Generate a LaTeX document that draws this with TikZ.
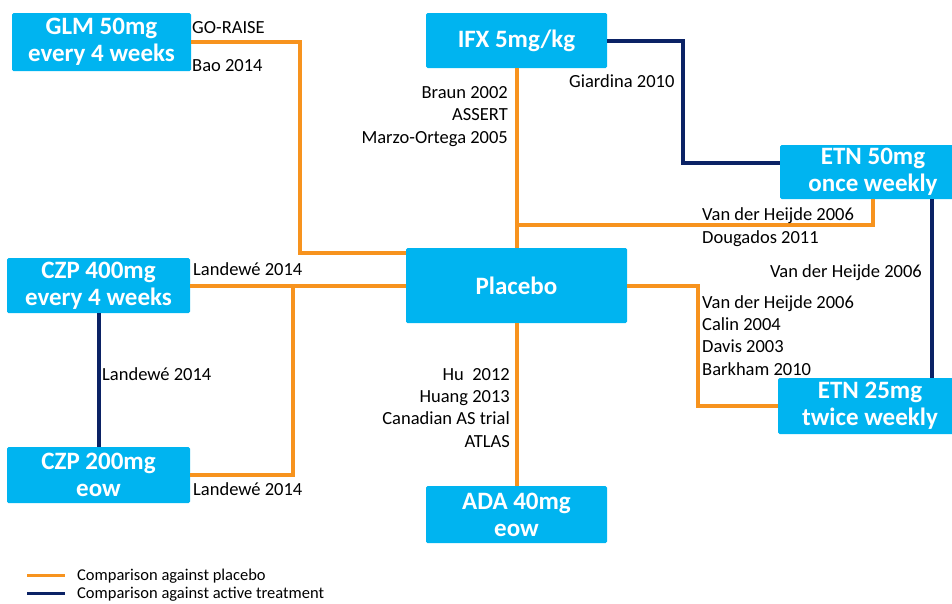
\documentclass[tikz,border=0pt]{standalone}
\usepackage{fontspec}
\setmainfont{Carlito}
\definecolor{boxblue}{HTML}{00B4F0}
\definecolor{pboorange}{HTML}{F7931E}
\definecolor{actnavy}{HTML}{0B2265}

\begin{document}
\begin{tikzpicture}[x=1pt,y=-1pt,
    box/.style={fill=boxblue,text=white,rounded corners=1.5pt,inner sep=0pt,align=center,
        font=\fontsize{25}{27}\selectfont\bfseries},
    ref/.style={inner sep=0pt,font=\fontsize{18.5}{22.3}\selectfont},
    pbo/.style={pboorange,line width=4pt},
    act/.style={actnavy,line width=4pt}]
    \useasboundingbox (0,0) rectangle (952,603);
    %% Treatments
    \node[box,minimum width=179pt,minimum height=58pt] (glm) at (101.5,42) {GLM 50mg\\every 4 weeks};
    \node[box,minimum width=181pt,minimum height=55pt] (ifx) at (516.5,40.5) {IFX 5mg/kg};
    \node[box,minimum width=186pt,minimum height=54pt] (etn50) at (873,172) {ETN 50mg\\once weekly};
    \node[box,minimum width=221pt,minimum height=75pt] (placebo) at (516.5,285.5) {Placebo};
    \node[box,minimum width=183pt,minimum height=55pt] (czp400) at (98.5,285.5) {CZP 400mg\\every 4 weeks};
    \node[box,minimum width=183pt,minimum height=56pt] (czp200) at (98.5,475) {CZP 200mg\\eow};
    \node[box,minimum width=184pt,minimum height=56pt] (etn25) at (870,406) {ETN 25mg\\twice weekly};
    \node[box,minimum width=181pt,minimum height=57pt] (ada) at (516.5,514.5) {ADA 40mg\\eow};
    %% Comparisons against placebo
    \coordinate (glmbend) at (300,253);
    \draw[pbo] (glm.east) -| (glmbend) -- (glmbend -| placebo.west);
    \draw[pbo] (czp400.east) -- (placebo.west);
    \coordinate (czpbend) at (293,285.5);
    \draw[pbo] (czp200.east) -| (czpbend);
    \draw[pbo] (ifx) -- (placebo);
    \coordinate (etnbend) at (516.5,225);
    \draw[pbo] (etnbend) -| (etn50.south);
    \coordinate (etn25bend) at (698,285.5);
    \draw[pbo] (placebo.east) -- (etn25bend) |- (etn25.west);
    \draw[pbo] (placebo) -- (ada);
    %% Comparisons against active treatment
    \coordinate (ifxbend) at (683,163);
    \draw[act] (ifx.east) -| (ifxbend) -- (ifxbend -| etn50.west);
    \coordinate (etnlink) at (932,0);
    \draw[act] (etnlink |- etn50.south) -- (etnlink |- etn25.north);
    \draw[act] (czp400) -- (czp200);
    %% Trials (multi-line nodes sit on their last line)
    \node[ref,anchor=base west] (goraise) at (192,33) {GO-RAISE};
    \node[ref,anchor=base west] (bao) at (192,71) {Bao 2014};
    \node[ref,align=right,anchor=base east] (braun) at (508,143) {Braun 2002\\ASSERT\\Marzo-Ortega 2005};
    \node[ref,anchor=base west] (giardina) at (569,87) {Giardina 2010};
    \node[ref,align=left,anchor=base west] (heijde1) at (702,243) {Van der Heijde 2006\\Dougados 2011};
    \node[ref,anchor=base east] (heijde2) at (922,277) {Van der Heijde 2006};
    \node[ref,align=left,anchor=base west] (heijde3) at (702,375) {Van der Heijde 2006\\Calin 2004\\Davis 2003\\Barkham 2010};
    \node[ref,anchor=base west] (landewe1) at (193,275) {Landewé 2014};
    \node[ref,anchor=base west] (landewe2) at (102,380) {Landewé 2014};
    \node[ref,anchor=base west] (landewe3) at (193,495) {Landewé 2014};
    \node[ref,align=right,anchor=base east] (hu) at (510,447) {Hu\ \ 2012\\Huang 2013\\Canadian AS trial\\ATLAS};
    %% Legend
    \node[inner sep=0pt,anchor=base west,font=\fontsize{16.5}{18}\selectfont] (legpbo) at (77,580) {Comparison against placebo};
    \node[inner sep=0pt,anchor=base west,font=\fontsize{16.5}{18}\selectfont] (legact) at (77,598) {Comparison against active treatment};
    \draw[pbo,line width=3.5pt] ([xshift=-50pt]legpbo.west) -- ([xshift=-12pt]legpbo.west);
    \draw[act,line width=3.5pt] ([xshift=-50pt]legact.west) -- ([xshift=-12pt]legact.west);
\end{tikzpicture}
\end{document}
